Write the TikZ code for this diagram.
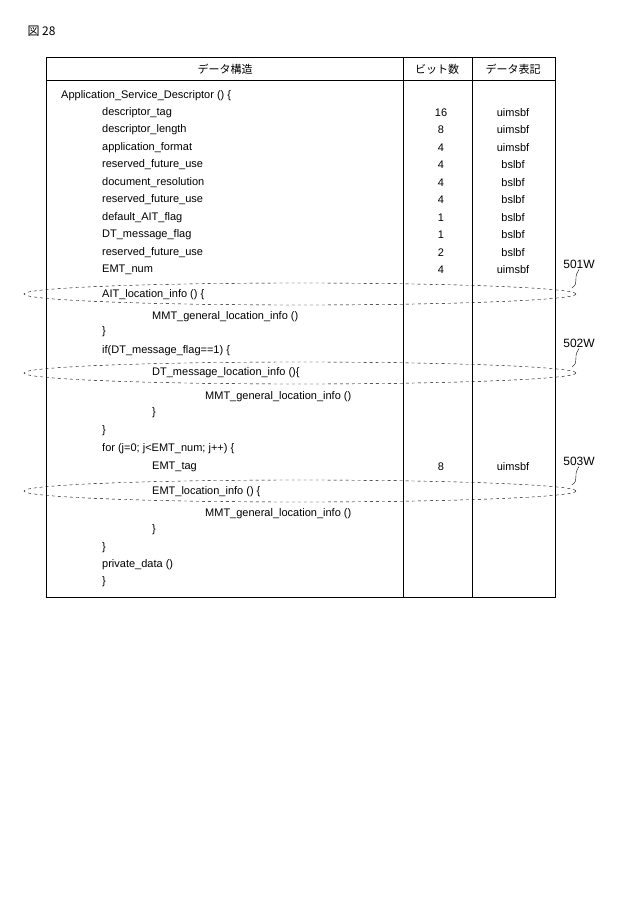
\documentclass[tikz,border=0pt]{standalone}
\usepackage{fontspec}
\setmainfont{Liberation Sans}
\newfontfamily\jpfont{Noto Sans CJK JP}
\begin{document}
\begin{tikzpicture}[x=1pt,y=-1pt,
    code/.style={anchor=west,font=\fontsize{11}{12}\selectfont,inner sep=0pt},
    num/.style={font=\fontsize{11}{12}\selectfont,inner sep=0pt},
    ring/.style={dashed,thin},
    tag/.style={font=\fontsize{12}{13}\selectfont,inner sep=1pt}]
  \def\la{61}
  \def\lb{102}
  \def\lc{152}
  \def\ld{205}
  \useasboundingbox (0,0) rectangle (622,921);
  \node[anchor=west,font=\jpfont\fontsize{12}{13}\selectfont] (fig) at (24,31) {図 28};

  % table frame
  \draw[thick] (46,57) rectangle (555,597);
  \draw (46,80) -- (555,80);
  \draw (403,57) -- (403,597);
  \draw (472,57) -- (472,597);
  \node[font=\jpfont\fontsize{11}{12}\selectfont] (h1) at (225,69) {データ構造};
  \node[font=\jpfont\fontsize{11}{12}\selectfont] (h2) at (437,69) {ビット数};
  \node[font=\jpfont\fontsize{11}{12}\selectfont] (h3) at (513,69) {データ表記};

  % syntax rows
  \node[code] at (\la,96) {Application\_Service\_Descriptor () \{};
  \foreach \y/\txt/\n/\m in {113/descriptor\_tag/16/uimsbf,
      130/descriptor\_length/8/uimsbf,
      148/application\_format/4/uimsbf,
      165/reserved\_future\_use/4/bslbf,
      183/document\_resolution/4/bslbf,
      200/reserved\_future\_use/4/bslbf,
      218/default\_AIT\_flag/1/bslbf,
      235/DT\_message\_flag/1/bslbf,
      253/reserved\_future\_use/2/bslbf,
      270/EMT\_num/4/uimsbf}{
    \node[code] at (\lb,\y) {\txt};
    \node[num] at (441,\y) {\n};
    \node[num] at (513,\y) {\m};
  }
  \node[code] at (\lb,295) {AIT\_location\_info () \{};
  \node[code] at (\lc,317) {MMT\_general\_location\_info ()};
  \node[code] at (\lb,332) {\}};
  \node[code] at (\lb,351) {if(DT\_message\_flag==1) \{};
  \node[code] at (\lc,373) {DT\_message\_location\_info ()\{};
  \node[code] at (\ld,397) {MMT\_general\_location\_info ()};
  \node[code] at (\lc,413) {\}};
  \node[code] at (\lb,431) {\}};
  \node[code] at (\lb,449) {for (j=0; j<EMT\_num; j++) \{};
  \node[code] at (\lc,467) {EMT\_tag};
  \node[num] at (441,467) {8};
  \node[num] at (513,467) {uimsbf};
  \node[code] at (\lc,492) {EMT\_location\_info () \{};
  \node[code] at (\ld,514) {MMT\_general\_location\_info ()};
  \node[code] at (\lc,530) {\}};
  \node[code] at (\lb,548) {\}};
  \node[code] at (\lb,565) {private\_data ()};
  \node[code] at (\lb,582) {\}};

  % dashed rings with tags
  \foreach \y/\t in {294/501W,373/502W,491/503W}{
    \draw[ring] (300,\y) ellipse (276 and 11);
    \node[tag] (t\t) at (579,\y-30) {\t};
    \draw (t\t.south) .. controls (572,\y-14) and (580,\y-12) .. (572,\y-6);
  }
\end{tikzpicture}
\end{document}
